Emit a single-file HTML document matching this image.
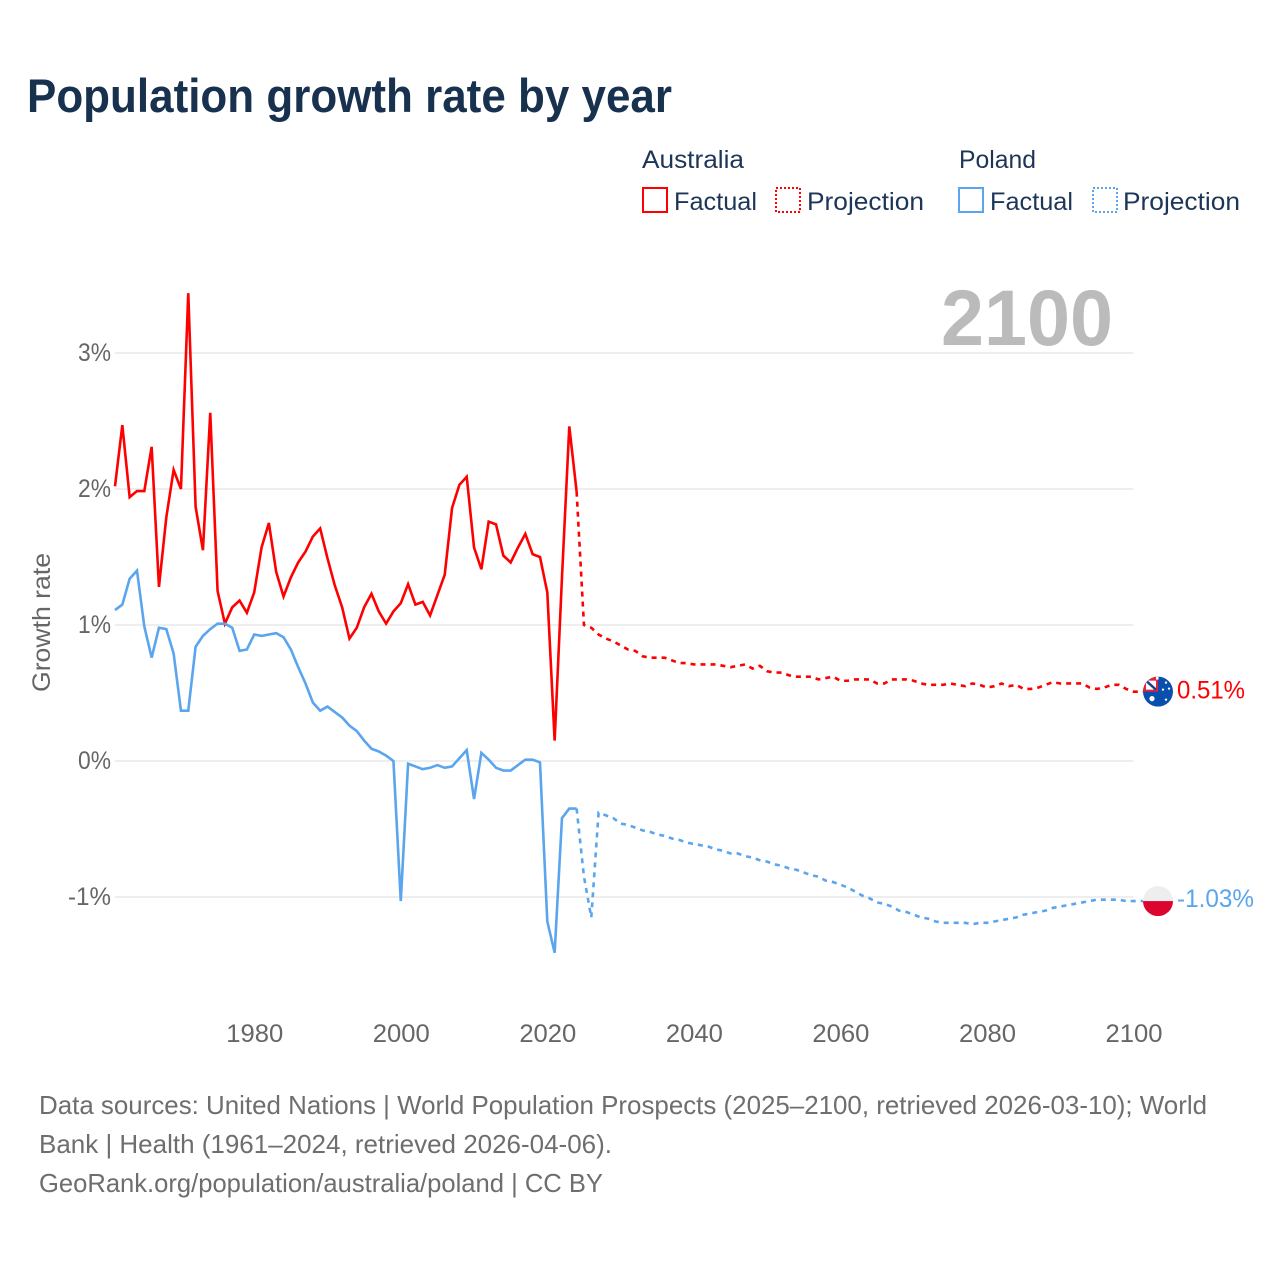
<!DOCTYPE html>
<html lang="en">
<head>
<meta charset="utf-8">
<title>Population growth rate by year</title>
<style>
html,body{margin:0;padding:0;background:#fff;}
#chart-root{display:block;width:1280px;height:1280px;font-family:"Liberation Sans",sans-serif;}
.legend-text{font-size:25px;fill:#1d3557;}
.foot{font-size:26px;fill:#6e6e6e;}
.tick{font-size:25px;fill:#666;}
</style>
</head>
<body>
<svg id="chart-root" xmlns="http://www.w3.org/2000/svg" width="1280" height="1280" viewBox="0 0 1280 1280">
  <rect x="0" y="0" width="1280" height="1280" fill="#fff"/>
  <text x="27" y="112" font-size="47" font-weight="700" fill="#17314f" textLength="645" lengthAdjust="spacingAndGlyphs">Population growth rate by year</text>

  <g>
    <text class="legend-text" x="642" y="168" textLength="102" lengthAdjust="spacingAndGlyphs">Australia</text>
    <text class="legend-text" x="959" y="168" textLength="77" lengthAdjust="spacingAndGlyphs">Poland</text>
    <g>
      <rect x="643" y="188" width="24" height="24" fill="none" stroke="#ff0000" stroke-width="2"/>
      <text class="legend-text" x="674" y="210" textLength="83" lengthAdjust="spacingAndGlyphs">Factual</text>
    </g>
    <g>
      <rect x="776" y="188" width="24" height="24" fill="none" stroke="#ff0000" stroke-width="2" stroke-dasharray="2 2"/>
      <text class="legend-text" x="807" y="210" textLength="117" lengthAdjust="spacingAndGlyphs">Projection</text>
    </g>
    <g>
      <rect x="959" y="188" width="24" height="24" fill="none" stroke="#5aa5ee" stroke-width="2"/>
      <text class="legend-text" x="990" y="210" textLength="83" lengthAdjust="spacingAndGlyphs">Factual</text>
    </g>
    <g>
      <rect x="1093" y="188" width="24" height="24" fill="none" stroke="#5aa5ee" stroke-width="2" stroke-dasharray="2 2"/>
      <text class="legend-text" x="1123" y="210" textLength="117" lengthAdjust="spacingAndGlyphs">Projection</text>
    </g>
  </g>

  <g id="grid"></g>
  <g id="yticks"></g>
  <g id="xticks"></g>

  <text x="941" y="345" font-size="79" font-weight="700" fill="#bbbbbb" textLength="172" lengthAdjust="spacingAndGlyphs">2100</text>
  <text transform="translate(50,692) rotate(-90)" font-size="25" fill="#666" textLength="139" lengthAdjust="spacingAndGlyphs">Growth rate</text>

  <g id="series"></g>

  <defs>
    <clipPath id="flag-clip"><circle cx="0" cy="0" r="15"/></clipPath>
  </defs>
  <g id="flag-au">
    <g clip-path="url(#flag-clip)">
      <rect x="-15" y="-15" width="30" height="30" fill="#0a4fae"/>
      <rect x="-15" y="-15" width="15" height="15" fill="#e2233a"/>
      <rect x="-12" y="-11" width="10" height="9" fill="#fff"/>
      <path d="M-12,-11 L-2,-2" stroke="#1f3f8f" stroke-width="2.5"/>
      <path d="M-2,-15 L0.5,-15 L0.5,-12 L-2,-12 Z" fill="#fff"/>
      <circle cx="-6" cy="7" r="2.6" fill="#fff"/>
      <circle cx="8" cy="-9" r="1.1" fill="#fff"/>
      <circle cx="11" cy="-3" r="1.1" fill="#fff"/>
      <circle cx="5" cy="-2" r="1.1" fill="#fff"/>
      <circle cx="8" cy="8" r="1.2" fill="#fff"/>
    </g>
  </g>
  <g id="flag-pl">
    <g clip-path="url(#flag-clip)">
      <rect x="-15" y="-15" width="30" height="15" fill="#eeeeee"/>
      <rect x="-15" y="0" width="30" height="15" fill="#dc0530"/>
    </g>
  </g>

  <text id="end-au" x="1177" font-size="25" fill="#ff0000" textLength="68" lengthAdjust="spacingAndGlyphs"></text>
  <text id="end-pl" x="1177" font-size="25" fill="#5aa5ee" textLength="77" lengthAdjust="spacingAndGlyphs"></text>

  <g>
    <text class="foot" x="39" y="1114" textLength="1168" lengthAdjust="spacingAndGlyphs">Data sources: United Nations | World Population Prospects (2025–2100, retrieved 2026-03-10); World</text>
    <text class="foot" x="39" y="1153" textLength="573" lengthAdjust="spacingAndGlyphs">Bank | Health (1961–2024, retrieved 2026-04-06).</text>
    <text class="foot" x="39" y="1192" textLength="564" lengthAdjust="spacingAndGlyphs">GeoRank.org/population/australia/poland | CC BY</text>
  </g>
</svg>

<script>
var factualStartYear = 1961;
var projectionStartYear = 2024;
var yTickValues = [3, 2, 1, 0, -1];
var yTickLabels = ["3%", "2%", "1%", "0%", "-1%"];
var xTickValues = [1980, 2000, 2020, 2040, 2060, 2080, 2100];
var xTickLabels = ["1980", "2000", "2020", "2040", "2060", "2080", "2100"];

var australiaFactual = [2.02,2.47,1.94,1.985,1.985,2.31,1.28,1.79,2.14,2.00,3.44,1.87,1.55,2.56,1.25,1.01,1.13,1.18,1.09,1.24,
  1.57,1.75,1.39,1.21,1.35,1.46,1.54,1.65,1.71,1.49,1.29,1.13,0.90,0.98,1.13,1.23,1.10,1.01,1.10,1.16,
  1.30,1.15,1.17,1.07,1.22,1.37,1.86,2.03,2.09,1.57,1.41,1.76,1.74,1.51,1.46,1.57,1.67,1.52,1.50,1.24,
  0.15,1.35,2.46,1.98];
var australiaProjection = [1.98,1.00,0.98,0.93,0.90,0.88,0.85,0.82,0.81,0.77,0.76,0.76,0.76,0.74,0.72,0.72,0.71,0.71,0.71,0.71,
  0.70,0.69,0.70,0.71,0.68,0.70,0.66,0.65,0.65,0.63,0.62,0.62,0.62,0.60,0.61,0.62,0.59,0.59,0.60,0.60,
  0.60,0.57,0.57,0.60,0.60,0.60,0.59,0.57,0.56,0.56,0.56,0.57,0.56,0.55,0.57,0.56,0.54,0.55,0.57,0.55,
  0.56,0.53,0.53,0.54,0.56,0.58,0.57,0.57,0.57,0.57,0.54,0.53,0.54,0.56,0.56,0.53,0.51];
var polandFactual = [1.11,1.15,1.34,1.40,0.99,0.76,0.98,0.97,0.79,0.37,0.37,0.84,0.92,0.97,1.01,1.01,0.98,0.81,0.82,0.93,
  0.92,0.93,0.94,0.91,0.82,0.69,0.57,0.43,0.37,0.40,0.36,0.32,0.26,0.22,0.15,0.09,0.07,0.04,0.00,-1.03,
  -0.02,-0.04,-0.06,-0.05,-0.03,-0.05,-0.04,0.02,0.08,-0.28,0.06,0.01,-0.05,-0.07,-0.07,-0.03,0.01,0.01,-0.01,-1.18,
  -1.41,-0.42,-0.35,-0.35];
var polandProjection = [-0.35,-0.85,-1.15,-0.38,-0.40,-0.42,-0.46,-0.47,-0.49,-0.51,-0.52,-0.54,-0.55,-0.57,-0.58,-0.60,-0.61,-0.62,-0.63,-0.65,
  -0.66,-0.68,-0.68,-0.70,-0.71,-0.73,-0.74,-0.76,-0.77,-0.79,-0.80,-0.82,-0.84,-0.85,-0.88,-0.89,-0.91,-0.93,-0.96,-0.99,
  -1.01,-1.04,-1.05,-1.07,-1.10,-1.11,-1.13,-1.15,-1.16,-1.18,-1.19,-1.19,-1.19,-1.19,-1.20,-1.19,-1.19,-1.18,-1.17,-1.16,
  -1.15,-1.13,-1.12,-1.11,-1.10,-1.08,-1.07,-1.06,-1.05,-1.04,-1.03,-1.02,-1.02,-1.02,-1.02,-1.03,-1.03];

var SVGNS = "http://www.w3.org/2000/svg";
function xScale(year) { return 115 + (year - 1961) * (1133.5 - 115) / (2100 - 1961); }
function yScale(value) { return 761 - value * 136; }

var gridGroup = document.getElementById("grid");
var yTickGroup = document.getElementById("yticks");
var xTickGroup = document.getElementById("xticks");
var seriesGroup = document.getElementById("series");

yTickValues.forEach(function (v, i) {
  var line = document.createElementNS(SVGNS, "line");
  
  
  line.setAttribute("x1", 115);
  line.setAttribute("x2", 1133.5);
  line.setAttribute("y1", yScale(v));
  line.setAttribute("y2", yScale(v));
  line.setAttribute("stroke", "#eeeeee");
  line.setAttribute("stroke-width", 2);
  gridGroup.appendChild(line);

  var label = document.createElementNS(SVGNS, "text");
  
  
  label.setAttribute("class", "tick");
  label.setAttribute("x", yTickLabels[i].length === 2 ? 78 : 68);
  label.setAttribute("y", yScale(v) + 8);
  label.setAttribute("textLength", yTickLabels[i].length === 2 ? 33 : 43);
  label.setAttribute("lengthAdjust", "spacingAndGlyphs");
  label.textContent = yTickLabels[i];
  yTickGroup.appendChild(label);
});

xTickValues.forEach(function (v, i) {
  var label = document.createElementNS(SVGNS, "text");
  
  
  label.setAttribute("class", "tick");
  label.setAttribute("x", xScale(v) - 28);
  label.setAttribute("y", 1042);
  label.setAttribute("textLength", 57);
  label.setAttribute("lengthAdjust", "spacingAndGlyphs");
  label.textContent = xTickLabels[i];
  xTickGroup.appendChild(label);
});

function pointsFor(values, startYear) {
  return values.map(function (v, i) {
    return xScale(startYear + i).toFixed(2) + "," + yScale(v).toFixed(2);
  }).join(" ");
}

/* Projection lines run on flat from the last value to the marker flag. */
function pointsToFlag(values, startYear) {
  return pointsFor(values, startYear) + " 1143," + yScale(values[values.length - 1]).toFixed(2);
}

var lineAuFactual = document.createElementNS(SVGNS, "polyline");


lineAuFactual.setAttribute("points", pointsFor(australiaFactual, factualStartYear));
lineAuFactual.setAttribute("fill", "none");
lineAuFactual.setAttribute("stroke", "#ff0000");
lineAuFactual.setAttribute("stroke-width", 2.6);
seriesGroup.appendChild(lineAuFactual);

var lineAuProjection = document.createElementNS(SVGNS, "polyline");


lineAuProjection.setAttribute("points", pointsToFlag(australiaProjection, projectionStartYear));
lineAuProjection.setAttribute("fill", "none");
lineAuProjection.setAttribute("stroke", "#ff0000");
lineAuProjection.setAttribute("stroke-width", 2.6);
lineAuProjection.setAttribute("stroke-dasharray", "5 5");
seriesGroup.appendChild(lineAuProjection);

var linePlFactual = document.createElementNS(SVGNS, "polyline");


linePlFactual.setAttribute("points", pointsFor(polandFactual, factualStartYear));
linePlFactual.setAttribute("fill", "none");
linePlFactual.setAttribute("stroke", "#5aa5ee");
linePlFactual.setAttribute("stroke-width", 2.6);
seriesGroup.appendChild(linePlFactual);

var linePlProjection = document.createElementNS(SVGNS, "polyline");


linePlProjection.setAttribute("points", pointsToFlag(polandProjection, projectionStartYear));
linePlProjection.setAttribute("fill", "none");
linePlProjection.setAttribute("stroke", "#5aa5ee");
linePlProjection.setAttribute("stroke-width", 2.6);
linePlProjection.setAttribute("stroke-dasharray", "5 5");
seriesGroup.appendChild(linePlProjection);

var auLast = australiaProjection[australiaProjection.length - 1];
var plLast = polandProjection[polandProjection.length - 1];
document.getElementById("flag-au").setAttribute("transform", "translate(1158," + yScale(auLast) + ")");
document.getElementById("flag-pl").setAttribute("transform", "translate(1158," + yScale(plLast) + ")");
var endAu = document.getElementById("end-au");
endAu.setAttribute("y", yScale(auLast) + 7);
endAu.textContent = auLast.toFixed(2) + "%";
var endPl = document.getElementById("end-pl");
endPl.setAttribute("y", yScale(plLast) + 6);
endPl.textContent = plLast.toFixed(2) + "%";
</script>
</body>
</html>
